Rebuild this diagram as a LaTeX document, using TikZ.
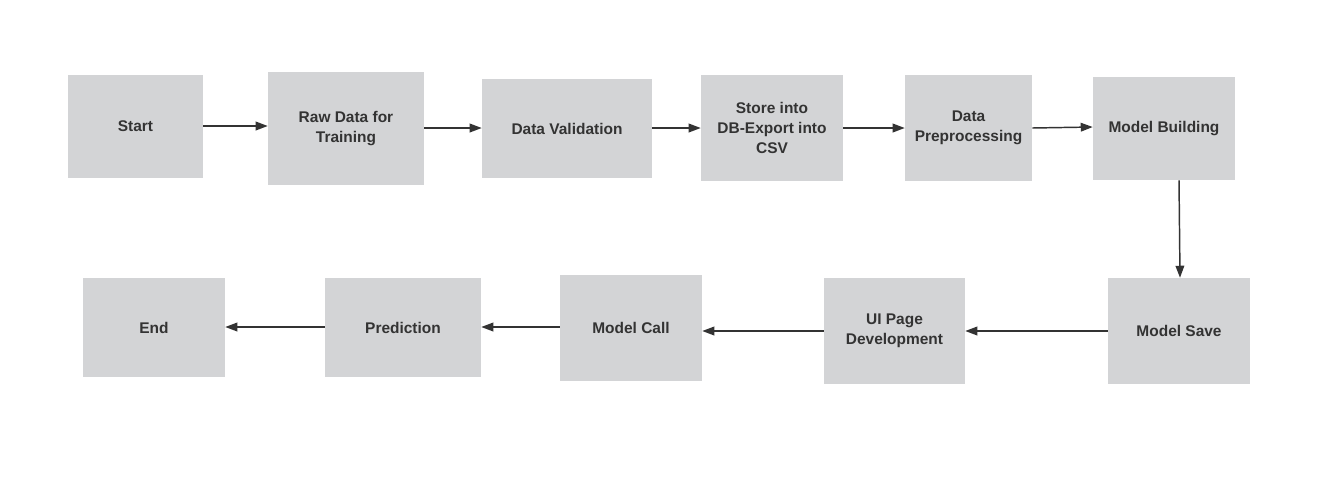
\documentclass[tikz,border=0pt]{standalone}
\usepackage{fontspec}
\setmainfont{Liberation Sans}
\usetikzlibrary{arrows.meta}
\definecolor{boxfill}{HTML}{D3D4D6}
\definecolor{ink}{HTML}{333333}
\begin{document}
\begin{tikzpicture}[x=0.75pt,y=-0.75pt,
  box/.style={fill=boxfill,draw=none,inner sep=0pt,align=center,text=ink,
    font=\fontsize{11.6pt}{15pt}\selectfont\bfseries},
  conn/.style={draw=ink,line width=1.1pt,-{Triangle[length=9pt,width=6.5pt]}}]
\useasboundingbox (0,0) rectangle (1326,494);
\fill[white] (0,0) rectangle (1326,494);
\node[box,minimum width={135*0.75pt},minimum height={103*0.75pt}] (start) at (135.5,126.5) {Start};
\node[box,minimum width={156*0.75pt},minimum height={113*0.75pt}] (raw) at (346,128.5) {Raw Data for\\Training};
\node[box,minimum width={170*0.75pt},minimum height={99*0.75pt}] (dv) at (567,128.5) {Data Validation};
\node[box,minimum width={142*0.75pt},minimum height={106*0.75pt}] (store) at (772,128) {Store into\\DB-Export into\\CSV};
\node[box,minimum width={127*0.75pt},minimum height={106*0.75pt}] (dp) at (968.5,128) {Data\\Preprocessing};
\node[box,minimum width={142*0.75pt},minimum height={103*0.75pt}] (mb) at (1164,128.5) {Model Building};
\node[box,minimum width={142*0.75pt},minimum height={106*0.75pt}] (ms) at (1179,331) {Model Save};
\node[box,minimum width={141*0.75pt},minimum height={106*0.75pt}] (ui) at (894.5,331) {UI Page\\Development};
\node[box,minimum width={142*0.75pt},minimum height={106*0.75pt}] (mc) at (631,328) {Model Call};
\node[box,minimum width={156*0.75pt},minimum height={99*0.75pt}] (pred) at (403,327.5) {Prediction};
\node[box,minimum width={142*0.75pt},minimum height={99*0.75pt}] (end) at (154,327.5) {End};

\draw[conn] (start.east |- 0,126) -- (raw.west |- 0,126);
\draw[conn] (raw.east |- 0,128) -- (dv.west |- 0,128);
\draw[conn] (dv.east |- 0,128) -- (store.west |- 0,128);
\draw[conn] (store.east |- 0,128) -- (dp.west |- 0,128);
\draw[conn] (dp.east |- 0,128) -- (mb.west |- 0,127);
\draw[conn] (mb.south -| 1179,0) -- (ms.north -| 1180,0);
\draw[conn] (ms.west |- 0,331) -- (ui.east |- 0,331);
\draw[conn] (ui.west |- 0,331) -- (mc.east |- 0,331);
\draw[conn] (mc.west |- 0,327) -- (pred.east |- 0,327);
\draw[conn] (pred.west |- 0,327) -- (end.east |- 0,327);
\end{tikzpicture}
\end{document}
